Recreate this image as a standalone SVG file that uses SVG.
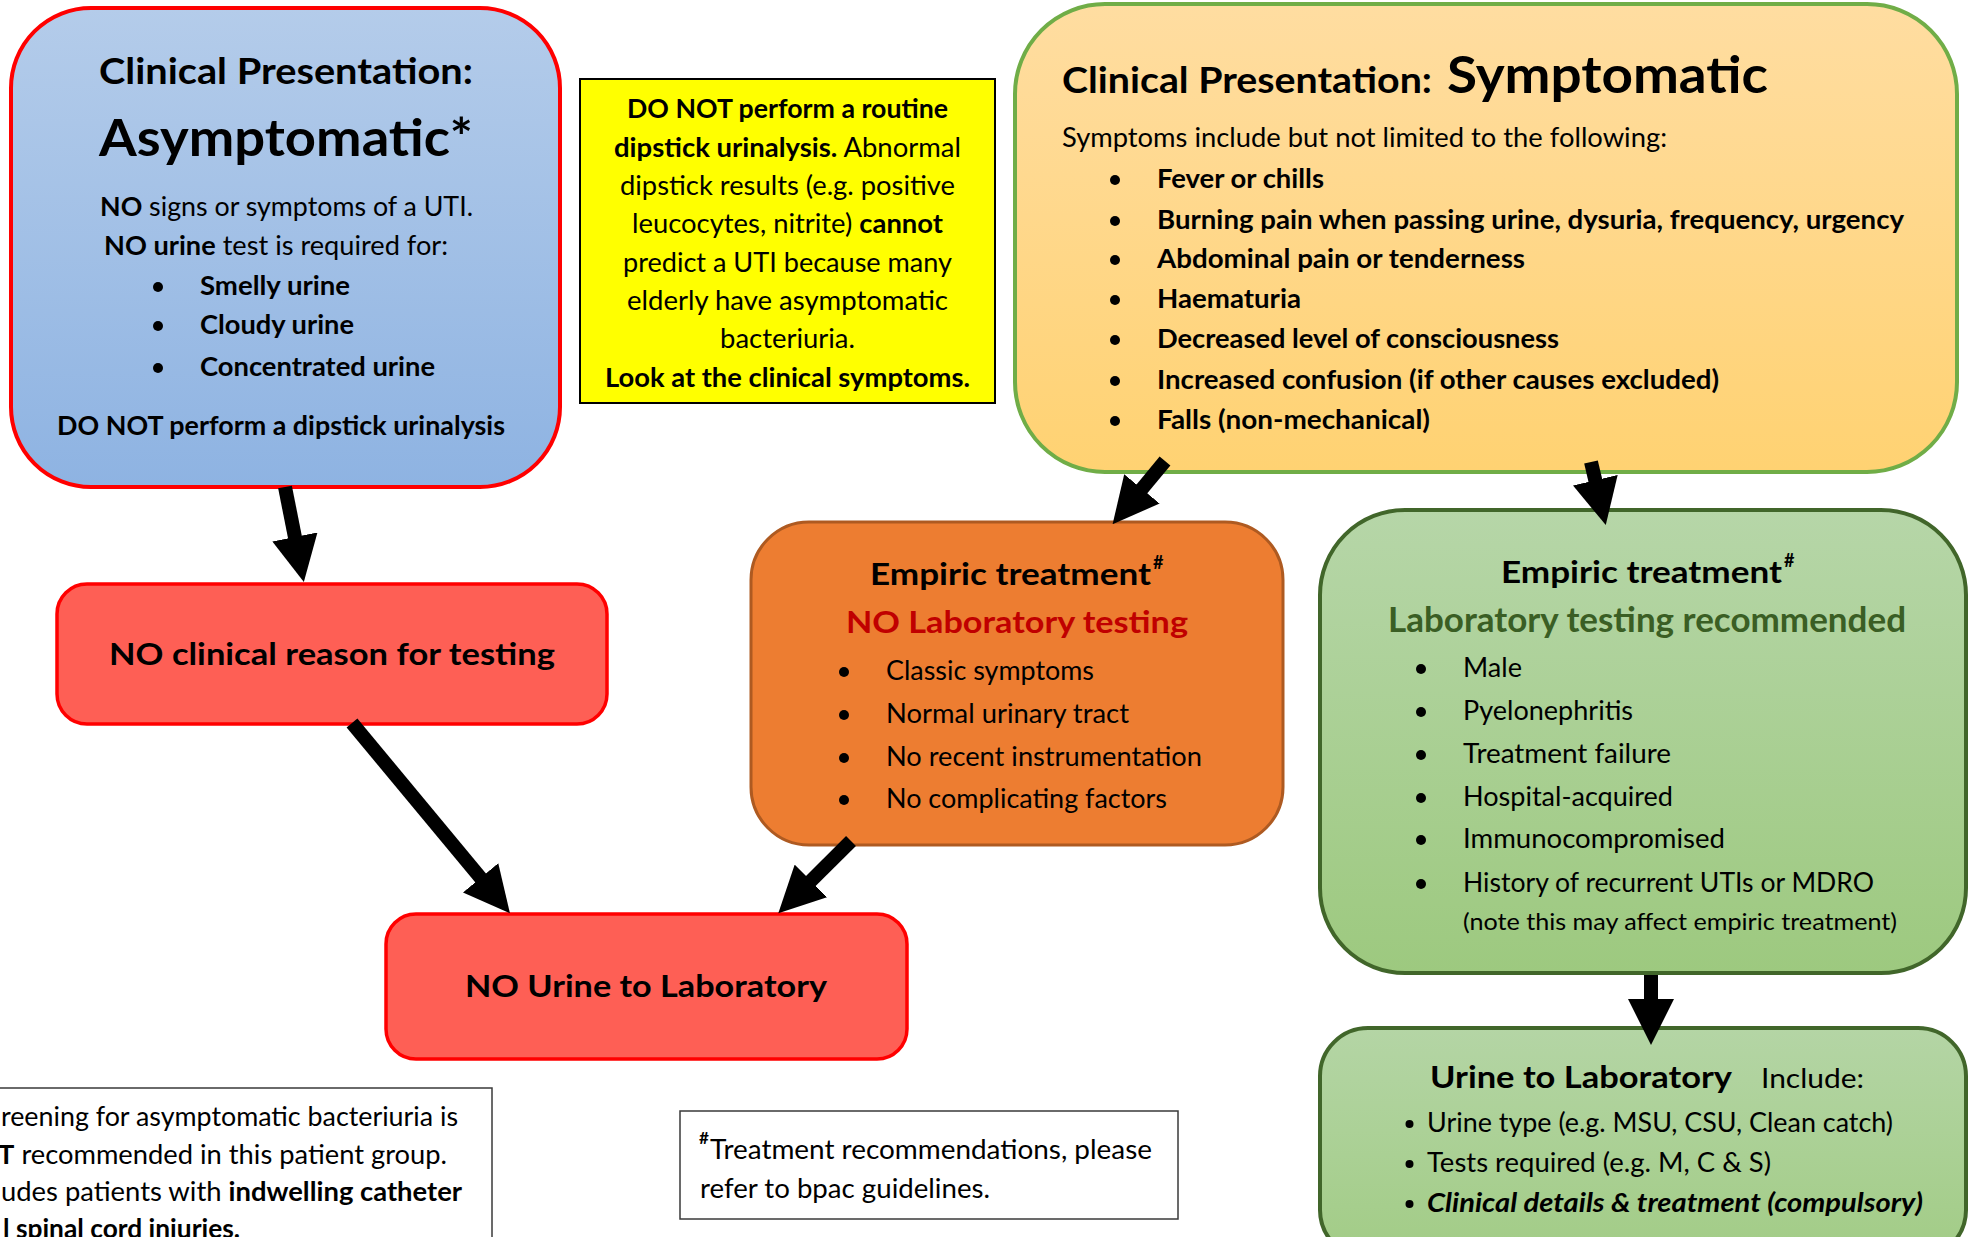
<svg xmlns="http://www.w3.org/2000/svg" width="1968" height="1237" viewBox="0 0 1968 1237">
<defs>
<linearGradient id="gBlue" x1="0" y1="0" x2="0" y2="1"><stop offset="0" stop-color="#B4CCEA"/><stop offset="1" stop-color="#8EB3E2"/></linearGradient>
<linearGradient id="gGold" x1="0" y1="0" x2="0" y2="1"><stop offset="0" stop-color="#FFDDA1"/><stop offset="1" stop-color="#FFD272"/></linearGradient>
<linearGradient id="gGreen" x1="0" y1="0" x2="0" y2="1"><stop offset="0" stop-color="#B6D6A8"/><stop offset="1" stop-color="#9DC97F"/></linearGradient>
<linearGradient id="gGreen2" x1="0" y1="0" x2="0" y2="1"><stop offset="0" stop-color="#B4D5A5"/><stop offset="1" stop-color="#A2CC86"/></linearGradient>
<marker id="ah" viewBox="0 0 46 46" markerWidth="46" markerHeight="46" markerUnits="userSpaceOnUse" refX="1" refY="23" orient="auto"><path d="M0,0 L46,23 L0,46 z" fill="#000"/></marker>
</defs>
<style>
text{font-family:Lato,'Open Sans','Liberation Sans',sans-serif;fill:#000}
.b{font-weight:700}
.i{font-style:italic}
.t{font-size:37px;font-weight:700}
.big{font-size:52px;font-weight:700}
.body{font-size:26px}
.h{font-size:31px;font-weight:700}
.sup{font-size:18px;font-weight:700}
.c{text-anchor:middle}
.dot{fill:#000}
.conn{stroke:#000;stroke-width:14;fill:none;marker-end:url(#ah)}
.redbox{fill:#FE5F55;stroke:#FF0000;stroke-width:3.5}
.note{fill:#FFFFFF;stroke:#3A3A3A;stroke-width:1.5}
</style>
<rect x="0" y="0" width="1968" height="1237" fill="#FFFFFF"/>

<g id="asymptomatic">
<rect x="11" y="8" width="549" height="479" rx="80" ry="80" fill="url(#gBlue)" stroke="#FF0000" stroke-width="4"/>
<text class="t c" x="286" y="84" textLength="374" lengthAdjust="spacingAndGlyphs">Clinical Presentation:</text>
<text class="big c" x="286" y="156" textLength="374" lengthAdjust="spacingAndGlyphs">Asymptomatic*</text>
<text class="body" x="100" y="216" textLength="373" lengthAdjust="spacingAndGlyphs"><tspan class="b">NO</tspan> signs or symptoms of a UTI.</text>
<text class="body" x="104" y="255" textLength="344" lengthAdjust="spacingAndGlyphs"><tspan class="b">NO urine</tspan> test is required for:</text>
<circle class="dot" cx="158" cy="287" r="5"/>
<circle class="dot" cx="158" cy="326" r="5"/>
<circle class="dot" cx="158" cy="368" r="5"/>
<text class="body b" x="200" y="295" textLength="150" lengthAdjust="spacingAndGlyphs">Smelly urine</text>
<text class="body b" x="200" y="334" textLength="154" lengthAdjust="spacingAndGlyphs">Cloudy urine</text>
<text class="body b" x="200" y="376" textLength="235" lengthAdjust="spacingAndGlyphs">Concentrated urine</text>
<text class="body b" x="57" y="435" textLength="448" lengthAdjust="spacingAndGlyphs">DO NOT perform a dipstick urinalysis</text>
</g>

<g id="dipstick-warning">
<rect x="580" y="79" width="415" height="324" fill="#FFFF00" stroke="#000" stroke-width="2"/>
<text class="body b c" x="787.5" y="118" textLength="321" lengthAdjust="spacingAndGlyphs">DO NOT perform a routine</text>
<text class="body c" x="787.5" y="157" textLength="347" lengthAdjust="spacingAndGlyphs"><tspan class="b">dipstick urinalysis.</tspan> Abnormal</text>
<text class="body c" x="787.5" y="195" textLength="335" lengthAdjust="spacingAndGlyphs">dipstick results (e.g. positive</text>
<text class="body c" x="787.5" y="233" textLength="311" lengthAdjust="spacingAndGlyphs">leucocytes, nitrite) <tspan class="b">cannot</tspan></text>
<text class="body c" x="787.5" y="272" textLength="329" lengthAdjust="spacingAndGlyphs">predict a UTI because many</text>
<text class="body c" x="787.5" y="310" textLength="321" lengthAdjust="spacingAndGlyphs">elderly have asymptomatic</text>
<text class="body c" x="787.5" y="348" textLength="135" lengthAdjust="spacingAndGlyphs">bacteriuria.</text>
<text class="body b c" x="787.5" y="387" textLength="365" lengthAdjust="spacingAndGlyphs">Look at the clinical symptoms.</text>
</g>

<g id="symptomatic">
<rect x="1015" y="4" width="942" height="468" rx="90" ry="90" fill="url(#gGold)" stroke="#70AD47" stroke-width="4"/>
<text class="t" x="1062" y="93" textLength="370" lengthAdjust="spacingAndGlyphs">Clinical Presentation:</text>
<text class="big" x="1447" y="93" textLength="321" lengthAdjust="spacingAndGlyphs">Symptomatic</text>
<text class="body" x="1062" y="147" textLength="605" lengthAdjust="spacingAndGlyphs">Symptoms include but not limited to the following:</text>
<circle class="dot" cx="1115" cy="180" r="5"/>
<circle class="dot" cx="1115" cy="221" r="5"/>
<circle class="dot" cx="1115" cy="260" r="5"/>
<circle class="dot" cx="1115" cy="300" r="5"/>
<circle class="dot" cx="1115" cy="340" r="5"/>
<circle class="dot" cx="1115" cy="381" r="5"/>
<circle class="dot" cx="1115" cy="421" r="5"/>
<text class="body b" x="1157" y="188" textLength="167" lengthAdjust="spacingAndGlyphs">Fever or chills</text>
<text class="body b" x="1157" y="229" textLength="747" lengthAdjust="spacingAndGlyphs">Burning pain when passing urine, dysuria, frequency, urgency</text>
<text class="body b" x="1157" y="268" textLength="368" lengthAdjust="spacingAndGlyphs">Abdominal pain or tenderness</text>
<text class="body b" x="1157" y="308" textLength="144" lengthAdjust="spacingAndGlyphs">Haematuria</text>
<text class="body b" x="1157" y="348" textLength="402" lengthAdjust="spacingAndGlyphs">Decreased level of consciousness</text>
<text class="body b" x="1157" y="389" textLength="562" lengthAdjust="spacingAndGlyphs">Increased confusion (if other causes excluded)</text>
<text class="body b" x="1157" y="429" textLength="273" lengthAdjust="spacingAndGlyphs">Falls (non-mechanical)</text>
</g>

<g id="no-reason">
<rect class="redbox" x="57" y="584" width="550" height="140" rx="30" ry="30"/>
<text class="h c" x="332" y="665" textLength="446" lengthAdjust="spacingAndGlyphs">NO clinical reason for testing</text>
</g>

<g id="empiric-no-lab">
<rect x="751" y="522" width="532" height="323" rx="58" ry="58" fill="#ED7D31" stroke="#AE5A21" stroke-width="3"/>
<text class="h" x="870" y="585" textLength="281" lengthAdjust="spacingAndGlyphs">Empiric treatment</text>
<text class="sup" x="1153" y="569">#</text>
<text class="h" x="846" y="633" textLength="342" lengthAdjust="spacingAndGlyphs" style="fill:#C00000">NO Laboratory testing</text>
<circle class="dot" cx="844" cy="672" r="5"/>
<circle class="dot" cx="844" cy="715" r="5"/>
<circle class="dot" cx="844" cy="758" r="5"/>
<circle class="dot" cx="844" cy="800" r="5"/>
<text class="body" x="886" y="680" textLength="208" lengthAdjust="spacingAndGlyphs">Classic symptoms</text>
<text class="body" x="886" y="723" textLength="243" lengthAdjust="spacingAndGlyphs">Normal urinary tract</text>
<text class="body" x="886" y="766" textLength="316" lengthAdjust="spacingAndGlyphs">No recent instrumentation</text>
<text class="body" x="886" y="808" textLength="281" lengthAdjust="spacingAndGlyphs">No complicating factors</text>
</g>

<g id="empiric-lab">
<rect x="1320" y="510" width="646" height="463" rx="85" ry="85" fill="url(#gGreen)" stroke="#41662A" stroke-width="4"/>
<text class="h" x="1501" y="583" textLength="281" lengthAdjust="spacingAndGlyphs">Empiric treatment</text>
<text class="sup" x="1784" y="567">#</text>
<text class="b" x="1388" y="632" textLength="518" lengthAdjust="spacingAndGlyphs" style="font-size:34px;fill:#3A5E24">Laboratory testing recommended</text>
<circle class="dot" cx="1421" cy="669" r="5"/>
<circle class="dot" cx="1421" cy="712" r="5"/>
<circle class="dot" cx="1421" cy="755" r="5"/>
<circle class="dot" cx="1421" cy="798" r="5"/>
<circle class="dot" cx="1421" cy="840" r="5"/>
<circle class="dot" cx="1421" cy="884" r="5"/>
<text class="body" x="1463" y="677" textLength="59" lengthAdjust="spacingAndGlyphs">Male</text>
<text class="body" x="1463" y="720" textLength="170" lengthAdjust="spacingAndGlyphs">Pyelonephritis</text>
<text class="body" x="1463" y="763" textLength="208" lengthAdjust="spacingAndGlyphs">Treatment failure</text>
<text class="body" x="1463" y="806" textLength="210" lengthAdjust="spacingAndGlyphs">Hospital-acquired</text>
<text class="body" x="1463" y="848" textLength="262" lengthAdjust="spacingAndGlyphs">Immunocompromised</text>
<text class="body" x="1463" y="892" textLength="411" lengthAdjust="spacingAndGlyphs">History of recurrent UTIs or MDRO</text>
<text x="1463" y="930" textLength="434" lengthAdjust="spacingAndGlyphs" style="font-size:23px">(note this may affect empiric treatment)</text>
</g>

<g id="no-urine">
<rect class="redbox" x="386" y="914" width="521" height="145" rx="30" ry="30"/>
<text class="h c" x="646" y="997" textLength="362" lengthAdjust="spacingAndGlyphs">NO Urine to Laboratory</text>
</g>

<g id="urine-to-lab">
<rect x="1320" y="1028" width="646" height="230" rx="48" ry="48" fill="url(#gGreen2)" stroke="#41662A" stroke-width="4"/>
<text class="h" x="1430" y="1088" textLength="302" lengthAdjust="spacingAndGlyphs">Urine to Laboratory</text>
<text class="body" x="1761" y="1088" textLength="103" lengthAdjust="spacingAndGlyphs">Include:</text>
<circle class="dot" cx="1409.5" cy="1124" r="4"/>
<circle class="dot" cx="1409.5" cy="1164" r="4"/>
<circle class="dot" cx="1409.5" cy="1204" r="4"/>
<text class="body" x="1427" y="1132" textLength="466" lengthAdjust="spacingAndGlyphs">Urine type (e.g. MSU, CSU, Clean catch)</text>
<text class="body" x="1427" y="1172" textLength="344" lengthAdjust="spacingAndGlyphs">Tests required (e.g. M, C &amp; S)</text>
<text class="body b i" x="1427" y="1212" textLength="496" lengthAdjust="spacingAndGlyphs">Clinical details &amp; treatment (compulsory)</text>
</g>

<g id="screening-note">
<rect class="note" x="-5" y="1088" width="497" height="160"/>
<text class="body" x="1" y="1126" textLength="457" lengthAdjust="spacingAndGlyphs">reening for asymptomatic bacteriuria is</text>
<text class="body" x="-2" y="1164" textLength="449" lengthAdjust="spacingAndGlyphs"><tspan class="b">T</tspan> recommended in this patient group.</text>
<text class="body" x="1" y="1201" textLength="461" lengthAdjust="spacingAndGlyphs">udes patients with <tspan class="b">indwelling catheter</tspan></text>
<text class="body b" x="3" y="1238" textLength="237" lengthAdjust="spacingAndGlyphs">l spinal cord injuries.</text>
</g>

<g id="treatment-note">
<rect class="note" x="680" y="1111" width="498" height="108"/>
<text x="699" y="1144" style="font-size:17px;font-weight:700">#</text>
<text x="710" y="1159" textLength="442" lengthAdjust="spacingAndGlyphs" style="font-size:27px">Treatment recommendations, please</text>
<text x="700" y="1198" textLength="290" lengthAdjust="spacingAndGlyphs" style="font-size:27px">refer to bpac guidelines.</text>
</g>

<g id="connectors">
<path class="conn" d="M285,487 L295.1,537.9"/>
<path class="conn" d="M352,723 L481.2,878.6"/>
<path class="conn" d="M851,841 L810.2,881.6"/>
<path class="conn" d="M1165,461 L1141.3,489.6"/>
<path class="conn" d="M1591,462 L1595.5,481.2"/>
<path class="conn" d="M1651,975 L1651,1000"/>
</g>
</svg>
